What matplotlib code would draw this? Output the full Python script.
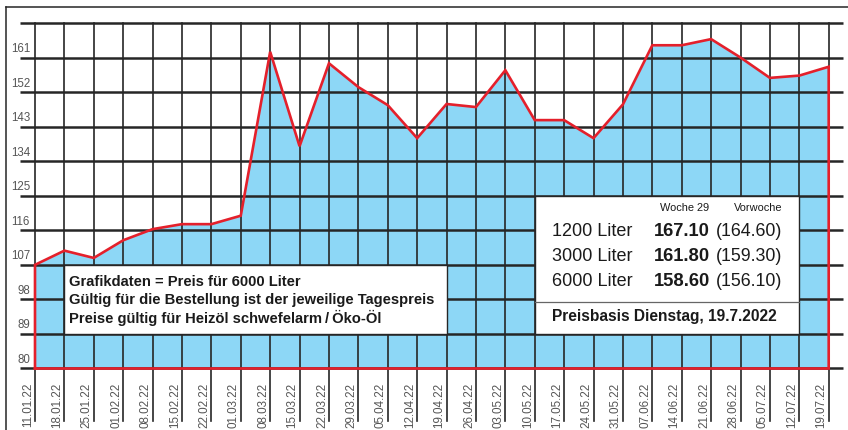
import matplotlib
matplotlib.use("Agg")
import matplotlib.pyplot as plt
from matplotlib.patches import Rectangle
from matplotlib.lines import Line2D

# Daten
dates = ["11.01.22", "18.01.22", "25.01.22", "01.02.22", "08.02.22", "15.02.22", "22.02.22",
         "01.03.22", "08.03.22", "15.03.22", "22.03.22", "29.03.22", "05.04.22", "12.04.22",
         "19.04.22", "26.04.22", "03.05.22", "10.05.22", "17.05.22", "24.05.22", "31.05.22",
         "07.06.22", "14.06.22", "21.06.22", "28.06.22", "05.07.22", "12.07.22", "19.07.22"]
prices = [107.0, 110.7, 108.8, 113.4, 116.3, 117.6, 117.6, 119.8, 162.5, 137.9,
          159.5, 153.3, 148.6, 140.0, 148.9, 148.1, 157.7, 144.7, 144.7, 140.0,
          148.8, 164.2, 164.2, 165.8, 161.0, 155.7, 156.3, 158.6]
y_levels = [80, 89, 98, 107, 116, 125, 134, 143, 152, 161, 170]
y_labels = ["80", "89", "98", "107", "116", "125", "134", "143", "152", "161", ""]

sizes = ["1200 Liter", "3000 Liter", "6000 Liter"]
week_now = ["167.10", "161.80", "158.60"]
week_prev = ["(164.60)", "(159.30)", "(156.10)"]

info_lines = ["Grafikdaten = Preis für 6000 Liter",
              "Gültig für die Bestellung ist der jeweilige Tagespreis",
              "Preise gültig für Heizöl schwefelarm\u2009/\u2009Öko-Öl"]

font = ["Liberation Sans", "DejaVu Sans"]

blue = "#8dd7f6"
red = "#e4202b"
dark = "#262626"
gray = "#555555"
ink = "#1a1a1a"

fig = plt.figure(figsize=(8.48, 4.31), dpi=100)
ax = fig.add_axes([0, 0, 1, 1])
ax.set_xlim(-1.1906, 27.6566)
ax.set_ylim(63.98, 176.25)
ax.axis("off")

x = list(range(len(prices)))

# Fläche
ax.fill_between(x, prices, 80, color=blue, lw=0, zorder=1)

# Gitter
for yv, lab in zip(y_levels, y_labels):
    ax.plot([-0.5, 27.5], [yv, yv], color=dark, lw=1.8, zorder=2, solid_capstyle="butt")
    if lab:
        ax.text(-0.17, yv + 0.9, lab, ha="right", va="bottom", fontsize=8.3,
                color=gray, family=font)
for xi, d in zip(x, dates):
    ax.plot([xi, xi], [66.3, 170], color=dark, lw=1.2, zorder=2)
    ax.text(xi - 0.24, 76.5, d, rotation=90, ha="center", va="top", fontsize=8.4,
            color=gray, family=font)

# rote Kontur
ax.plot([0] + x + [27, 0], [80] + prices + [80, 80], color=red, lw=1.9, zorder=3,
        solid_joinstyle="miter")

# Rahmen
fig.add_artist(Line2D([0.0071, 1.0], [1 - 8 / 431, 1 - 8 / 431], color=dark, lw=1.1))
fig.add_artist(Line2D([0.0071, 0.0071], [0, 1 - 8 / 431], color=dark, lw=1.1))

# Textkasten links
ax.add_patch(Rectangle((1, 89), 13, 18, facecolor="white", edgecolor=dark, lw=1.0, zorder=4))
for yv, line in zip([102.9, 98.1, 93.3], info_lines):
    ax.text(1.14, yv, line, ha="left", va="center", fontsize=10.6, fontweight="bold",
            color=ink, family=font, zorder=5)

# Textkasten rechts
ax.add_patch(Rectangle((17, 89), 9, 36, facecolor="white", edgecolor=dark, lw=1.0, zorder=4))
ax.plot([17, 26], [97.4, 97.4], color="#666666", lw=0.9, zorder=5)
ax.text(22.11, 122.1, "Woche 29", ha="center", va="center", fontsize=7.9,
        color=ink, family=font, zorder=5)
ax.text(24.6, 122.1, "Vorwoche", ha="center", va="center", fontsize=7.9,
        color=ink, family=font, zorder=5)
for yv, s, a, b in zip([115.9, 109.4, 102.9], sizes, week_now, week_prev):
    ax.text(17.59, yv, s, ha="left", va="center", fontsize=13, color=ink,
            family=font, zorder=5)
    ax.text(22.97, yv, a, ha="right", va="center", fontsize=13.2, fontweight="bold",
            color=ink, family=font, zorder=5)
    ax.text(23.17, yv, b, ha="left", va="center", fontsize=12.8, color=ink,
            family=font, zorder=5)
ax.text(17.59, 93.75, "Preisbasis Dienstag, 19.7.2022", ha="left", va="center",
        fontsize=11.2, fontweight="bold", color=ink, family=font, zorder=5)

fig.savefig("out.png", dpi=100)
